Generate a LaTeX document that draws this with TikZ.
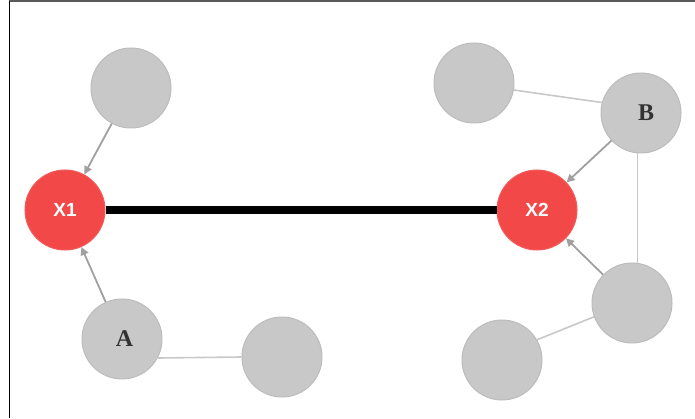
\documentclass[tikz,border=0pt]{standalone}
\usepackage{fontspec}
\setmainfont{Liberation Serif}
\newfontfamily\lblsans{Liberation Sans}
\usetikzlibrary{arrows.meta}
\definecolor{nodegray}{RGB}{200,200,200}
\definecolor{nodeedge}{RGB}{188,188,188}
\definecolor{hotred}{RGB}{242,72,72}
\definecolor{arrowgray}{RGB}{160,160,160}
\definecolor{linegray}{RGB}{200,200,200}
\definecolor{framegray}{RGB}{90,90,90}
\tikzset{
  x=1pt,y=1pt,
  graynode/.style={circle,fill=nodegray,draw=nodeedge,line width=1pt,minimum size=80pt,inner sep=0pt,
    font=\fontsize{24}{24}\selectfont\bfseries,text=black!80},
  rednode/.style={circle,fill=hotred,draw=hotred!90!white,line width=1pt,minimum size=80pt,inner sep=0pt,
    font=\lblsans\fontsize{19}{19}\selectfont\bfseries,text=white},
  arr/.style={draw=arrowgray,line width=1.8pt,-{Triangle[length=8pt,width=8pt]}},
  thin/.style={draw=linegray,line width=1.6pt},
  bond/.style={draw=black,line width=7.5pt}
}
\begin{document}
\begin{tikzpicture}
\useasboundingbox (0,0) rectangle (695,418);
% frame
\draw[framegray,line width=2pt] (9,416.5) -- (695,416.5);
\draw[black,line width=1.6pt] (9.5,0) -- (9.5,417);
% nodes
\node[rednode] (X1) at (65,208) {X1};
\node[rednode] (X2) at (537,208) {X2};
\node[graynode] (TL) at (131,330) {};
\node[graynode] (A) at (122,79) {\hspace{5pt}\raisebox{-4pt}{A}};
\node[graynode] (Ab) at (282,61) {};
\node[graynode] (TR) at (474,335) {};
\node[graynode] (B) at (641,305) {\hspace{10pt}\raisebox{-2pt}{B}};
\node[graynode] (BR) at (632,115) {};
\node[graynode] (BB) at (502,58) {};
% connectors
\draw[bond] (X1) -- (X2);
\draw[arr] (TL) -- (X1);
\draw[arr] (A) -- (X1);
\draw[arr] (B) -- (X2);
\draw[arr] (BR) -- (X2);
\draw[thin] (A.-28) -- (Ab.180);
\draw[thin] (TR.-10) -- (B.165);
\draw[thin] (B.265) -- (B.265 |- BR.north);
\draw[thin] (BR.200) -- (BB.30);
\end{tikzpicture}
\end{document}
